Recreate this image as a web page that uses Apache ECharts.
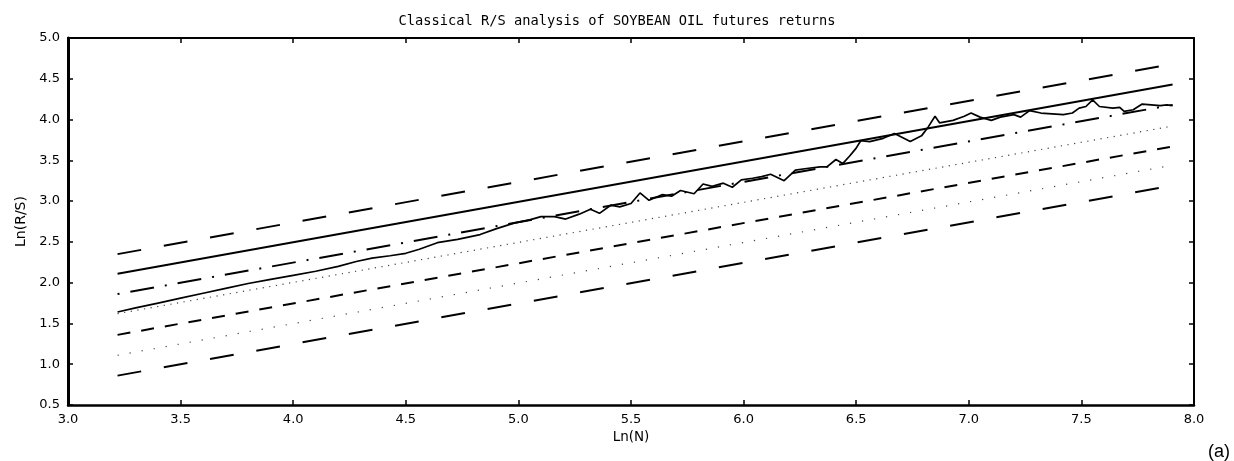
<!DOCTYPE html>
<html>
<head>
<meta charset="utf-8">
<script src="https://cdn.jsdelivr.net/npm/echarts@6/dist/echarts.min.js"></script>
<style>
html,body{margin:0;padding:0;background:#fff;}
#chart{width:1234px;height:461px;}
</style>
</head>
<body>
<div id="chart"></div>
<script>
// ---- data ----
const titleText = 'Classical R/S analysis of SOYBEAN OIL futures returns';
const xTicks = [3.0, 3.5, 4.0, 4.5, 5.0, 5.5, 6.0, 6.5, 7.0, 7.5, 8.0];
const yTicks = [0.5, 1.0, 1.5, 2.0, 2.5, 3.0, 3.5, 4.0, 4.5, 5.0];

// observed Ln(R/S) vs Ln(N)
const lnN = [3.22,3.30,3.40,3.50,3.60,3.70,3.80,3.90,4.00,4.10,4.20,4.28,4.35,4.43,4.50,4.56,4.64,4.73,4.83,4.90,4.98,5.05,5.10,5.16,5.21,5.27,5.32,5.36,5.41,5.45,5.50,5.54,5.58,5.64,5.68,5.72,5.78,5.82,5.86,5.91,5.95,5.99,6.04,6.08,6.12,6.18,6.23,6.28,6.34,6.37,6.41,6.44,6.47,6.50,6.52,6.56,6.62,6.67,6.74,6.79,6.82,6.85,6.87,6.93,6.98,7.01,7.05,7.10,7.14,7.20,7.23,7.27,7.32,7.37,7.42,7.46,7.49,7.52,7.55,7.58,7.64,7.67,7.69,7.73,7.77,7.81,7.85,7.88,7.905];
const lnRS = [1.64,1.69,1.75,1.81,1.87,1.93,1.99,2.04,2.09,2.14,2.20,2.26,2.30,2.33,2.36,2.41,2.49,2.53,2.59,2.66,2.73,2.77,2.81,2.81,2.78,2.84,2.90,2.85,2.95,2.93,2.97,3.10,3.01,3.08,3.06,3.13,3.09,3.21,3.18,3.22,3.17,3.26,3.28,3.30,3.33,3.25,3.38,3.40,3.42,3.42,3.51,3.46,3.55,3.65,3.74,3.73,3.77,3.83,3.73,3.80,3.91,4.04,3.96,3.99,4.04,4.08,4.03,3.99,4.03,4.06,4.03,4.11,4.08,4.07,4.06,4.08,4.14,4.16,4.24,4.16,4.14,4.15,4.10,4.12,4.19,4.18,4.17,4.18,4.17];

// reference lines: x range and y at each end (top to bottom)
const refX = [3.22, 7.905];
const refStartY = [2.35, 2.11, 1.86, 1.62, 1.36, 1.11, 0.86];
const refEndY   = [4.68, 4.43, 4.18, 3.92, 3.67, 3.44, 3.19];

// ---- styles for reference lines ----
const refStyles = [
  {type:[24,23], width:2, color:'#000'},
  {type:'solid', width:2, color:'#000'},
  {type:[2,11,24,11], width:2, color:'#000'},
  {type:[1.2,5.5], width:1.2, color:'#444'},
  {type:[13,11], width:2, color:'#000'},
  {type:[1.2,11], width:1.2, color:'#444'},
  {type:[24,23], width:2, color:'#000'}
];

const series = refStartY.map((y0, i) => ({
  type:'line', xAxisIndex:0, yAxisIndex:0, showSymbol:false, silent:true,
  data:[[refX[0], y0],[refX[1], refEndY[i]]],
  lineStyle:refStyles[i], z:2
}));
series.push({
  type:'line', xAxisIndex:0, yAxisIndex:0, showSymbol:false, silent:true,
  data: lnN.map((x,i)=>[x, lnRS[i]]),
  lineStyle:{color:'#000', width:1.7}, z:3
});

const font = 'DejaVu Sans';
const tickFmt = v => v.toFixed(1);
const baseX = {
  type:'value', min:3.0, max:8.0, interval:0.5,
  splitLine:{show:false},
  axisTick:{show:true, inside:true, length:5, lineStyle:{color:'#000', width:1.5}},
};
const baseY = {
  type:'value', min:0.5, max:5.0, interval:0.5,
  splitLine:{show:false},
  axisTick:{show:true, inside:true, length:5, lineStyle:{color:'#000', width:1.5}},
};

const chart = echarts.init(document.getElementById('chart'), null, {renderer:'canvas'});
chart.setOption({
  animation:false,
  backgroundColor:'#fff',
  title:{text:titleText, left:'center', top:9,
    textStyle:{fontFamily:'DejaVu Sans Mono', fontSize:13.7, fontWeight:'normal', color:'#000'}},
  grid:{left:68, top:38, right:40, bottom:56, containLabel:false},
  xAxis:[
    Object.assign({}, baseX, {position:'bottom', name:'Ln(N)', nameLocation:'middle', nameGap:25,
      nameTextStyle:{fontFamily:font, fontSize:13.5, color:'#000'},
      axisLine:{show:true, onZero:false, lineStyle:{color:'#000', width:2.5}},
      axisLabel:{show:true, margin:8, formatter:tickFmt, fontFamily:font, fontSize:13, color:'#000'}}),
    Object.assign({}, baseX, {position:'top',
      axisLine:{show:true, onZero:false, lineStyle:{color:'#000', width:2}},
      axisLabel:{show:false}})
  ],
  yAxis:[
    Object.assign({}, baseY, {position:'left', name:'Ln(R/S)', nameLocation:'middle', nameGap:39, nameRotate:90,
      nameTextStyle:{fontFamily:font, fontSize:14, color:'#000'},
      axisLine:{show:true, onZero:false, lineStyle:{color:'#000', width:3}},
      axisLabel:{show:true, margin:8, formatter:tickFmt, fontFamily:font, fontSize:13, color:'#000'}}),
    Object.assign({}, baseY, {position:'right',
      axisLine:{show:true, onZero:false, lineStyle:{color:'#000', width:2}},
      axisLabel:{show:false}})
  ],
  graphic:[{type:'text', right:4, bottom:0,
    style:{text:'(a)', fontFamily:'Liberation Sans', fontSize:18, fill:'#000'}}],
  series: series
});
</script>
</body>
</html>
